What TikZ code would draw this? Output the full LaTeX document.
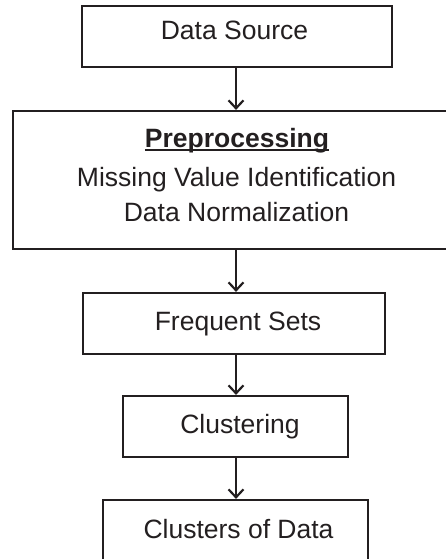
\documentclass[tikz,border=0pt]{standalone}
\usepackage{fontspec}
\setmainfont{Liberation Sans}
\usetikzlibrary{arrows.meta}
\definecolor{ink}{HTML}{231F20}
\newcommand{\myul}[1]{\setbox0\hbox{#1}\rlap{\rule[-3.6pt]{\wd0}{1.9pt}}\box0}
\begin{document}
\begin{tikzpicture}[x=1pt,y=-1pt,
  boxnode/.style={draw=ink, line width=2.2pt, rectangle, inner sep=0pt},
  txt/.style={text=ink, font=\fontsize{26.5}{30}\selectfont, inner sep=0pt, anchor=base},
  arr/.style={draw=ink, line width=2.2pt, -{Straight Barb[length=8pt,width=15pt,line width=2.2pt]}}]
\useasboundingbox (0,0) rectangle (446,559);
\node[boxnode, minimum width=310pt, minimum height=61pt] (b1) at (237,36.5) {};
\node[boxnode, minimum width=446pt, minimum height=138pt] (b2) at (236,180) {};
\node[boxnode, minimum width=302pt, minimum height=61pt] (b3) at (234,323.5) {};
\node[boxnode, minimum width=225pt, minimum height=61pt] (b4) at (235.5,426.5) {};
\node[boxnode, minimum width=265pt, minimum height=75pt] (b5) at (235.5,537.5) {};
\node[txt] (t1) at (234.5,40) {Data Source};
\node[txt] (t2a) at (237,147) {\bfseries\myul{Preprocessing}};
\node[txt] (t2b) at (236.5,186) {Missing Value Identification};
\node[txt] (t2c) at (236.5,221) {Data Normalization};
\node[txt] (t3) at (238,330) {Frequent Sets};
\node[txt] (t4) at (240,433) {Clustering};
\node[txt] (t5) at (238.5,538) {Clusters of Data};
\coordinate (ax) at (236,0);
\draw[arr] (b1.south -| ax) -- (b2.north -| ax);
\draw[arr] (b2.south -| ax) -- (b3.north -| ax);
\draw[arr] (b3.south -| ax) -- (b4.north -| ax);
\draw[arr] (b4.south -| ax) -- (b5.north -| ax);
\end{tikzpicture}
\end{document}
